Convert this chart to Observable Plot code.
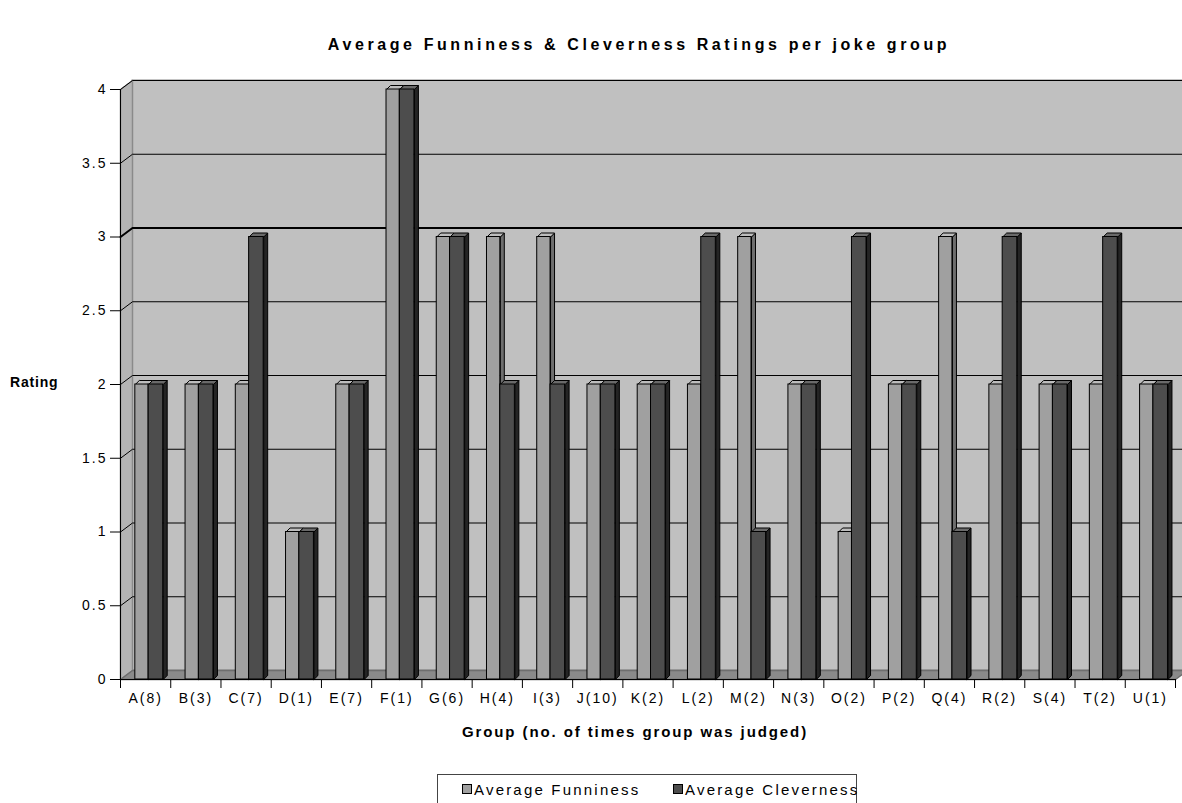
<!DOCTYPE html>
<html>
<head>
<meta charset="utf-8">
<script src="https://cdn.jsdelivr.net/npm/d3@7"></script>
<script src="https://cdn.jsdelivr.net/npm/@observablehq/plot@0.6"></script>
<style>
  html, body { margin: 0; padding: 0; background: #fff; overflow: hidden; }
  #root { position: relative; width: 1182px; height: 803px; font-family: "Liberation Sans", Arial, sans-serif; color: #000; }
  #root svg { position: absolute; left: 0; top: 0; }
  .lbl { position: absolute; white-space: nowrap; font-weight: bold; }
  #title { left: 0; width: 1278px; top: 36px; text-align: center; font-size: 16px; letter-spacing: 3.6px; }
  #ylabel { left: 10px; top: 374px; font-size: 14px; letter-spacing: 0.8px; }
  #xlabel { left: 0; width: 1270px; top: 723px; text-align: center; font-size: 15px; letter-spacing: 1.9px; }
  #legend { position: absolute; left: 437px; top: 774px; width: 420px; height: 34px; border: 1px solid #444; box-sizing: border-box;
            font-size: 15px; letter-spacing: 2.2px; }
  .item { position: absolute; top: 6px; white-space: nowrap; }
  .sw { display: inline-block; width: 8px; height: 8px; border: 1px solid #000; margin-right: 2px; vertical-align: 1px; }
</style>
</head>
<body>
<div id="root">
  <div id="title" class="lbl">Average Funniness &amp; Cleverness Ratings per joke group</div>
  <div id="ylabel" class="lbl">Rating</div>
  <div id="xlabel" class="lbl">Group (no. of times group was judged)</div>
  <div id="legend"></div>
</div>
<script>
// Joke groups (label shows how many times the group was judged)
const groups = ["A(8)", "B(3)", "C(7)", "D(1)", "E(7)", "F(1)", "G(6)", "H(4)", "I(3)", "J(10)", "K(2)",
                "L(2)", "M(2)", "N(3)", "O(2)", "P(2)", "Q(4)", "R(2)", "S(4)", "T(2)", "U(1)"];
const funniness  = [2, 2, 2, 1, 2, 4, 3, 3, 3, 2, 2, 2, 3, 2, 1, 2, 3, 2, 2, 2, 2];
const cleverness = [2, 2, 3, 1, 2, 4, 3, 2, 2, 2, 2, 3, 1, 2, 3, 2, 1, 3, 2, 3, 2];
const seriesNames = ["Average Funniness", "Average Cleverness"];
const yTicks = [0, 0.5, 1, 1.5, 2, 2.5, 3, 3.5, 4];

// Layout
const W = 1182, H = 803;
const ML = 120, MR = 7, MT = 89, MB = 124;
const n = groups.length, yMax = 4;
const kx = n / (W - ML - MR);      // data units per pixel, x
const ky = yMax / (H - MT - MB);   // data units per pixel, y
const wallDX = 12 * kx, wallDY = 9 * ky;   // depth of the back wall
const barDX = 4 * kx, barDY = 4 * ky;      // depth of each column

// Series styling: front, top and side faces of the 3-D columns
const series = [
  {name: seriesNames[0], values: funniness,  x0: 0.295, x1: 0.56, front: "#a0a0a0", top: "#bdbdbd", side: "#6e6e6e"},
  {name: seriesNames[1], values: cleverness, x0: 0.56,  x1: 0.85, front: "#4d4d4d", top: "#6a6a6a", side: "#242424"}
];

function poly(id, pts) { return [...pts, pts[0]].map(([x, y]) => ({id, x, y})); }

// Back wall side panel and floor
const leftPanel = poly("left", [[0, 0], [0, yMax], [wallDX, yMax + wallDY], [wallDX, wallDY]]);
const floor = poly("floor", [[0, 0], [n, 0], [n + wallDX, wallDY], [wallDX, wallDY]]);

// Gridlines: a short diagonal on the side panel, then across the back wall
const grid = yTicks.filter(v => v > 0).flatMap(v =>
  [[0, v], [wallDX, v + wallDY], [n + wallDX, v + wallDY]].map(([x, y]) => ({id: v, x, y, w: v === 3 ? 2 : 1})));

const marks = [
  Plot.rect([0], {x1: 0, x2: n, y1: 0, y2: yMax, dx: 12, dy: -9, fill: "#c0c0c0", stroke: "#8a8a8a"}),
  Plot.line(leftPanel, {x: "x", y: "y", z: "id", fill: "#b4b4b4", stroke: "#8a8a8a"}),
  Plot.line(floor, {x: "x", y: "y", z: "id", fill: "#8a8a8a", stroke: "#6e6e6e"}),
  Plot.line(grid.filter(d => d.w === 1), {x: "x", y: "y", z: "id", stroke: "#000", strokeWidth: 1}),
  Plot.line(grid.filter(d => d.w === 2), {x: "x", y: "y", z: "id", stroke: "#000", strokeWidth: 2})
];

// Columns: funniness first, cleverness drawn over its neighbour's side face
for (const s of series) {
  const rows = s.values.map((v, i) => ({i, v, a: i + s.x0, b: i + s.x1}));
  const tops = rows.flatMap(r => poly(r.i, [[r.a, r.v], [r.b, r.v], [r.b + barDX, r.v + barDY], [r.a + barDX, r.v + barDY]]));
  const sides = rows.flatMap(r => poly(r.i, [[r.b, 0], [r.b, r.v], [r.b + barDX, r.v + barDY], [r.b + barDX, barDY]]));
  marks.push(
    Plot.line(sides, {x: "x", y: "y", z: "id", fill: s.side, stroke: "#000", strokeWidth: 1}),
    Plot.line(tops, {x: "x", y: "y", z: "id", fill: s.top, stroke: "#000", strokeWidth: 1}),
    Plot.rectY(rows, {x1: "a", x2: "b", y1: 0, y2: "v", fill: s.front, stroke: "#000", strokeWidth: 1})
  );
}

marks.push(
  Plot.ruleX([0], {y1: 0, y2: yMax, stroke: "#000"}),
  Plot.ruleY([0], {x1: 0, x2: n, stroke: "#000"}),
  Plot.axisY({ticks: yTicks, tickSize: 10, tickPadding: 3, tickFormat: d => String(d), label: null,
              fontSize: 14, stroke: "#000"}),
  Plot.axisX({ticks: d3.range(n + 1), tickSize: 9, tickFormat: () => "", label: null, stroke: "#000"}),
  Plot.text(groups, {x: (d, i) => i + 0.5, y: 0, dy: 19, text: d => d, fontSize: 14, fill: "#000"})
);

const chart = Plot.plot({
  width: W, height: H,
  marginLeft: ML, marginRight: MR, marginTop: MT, marginBottom: MB,
  x: {type: "linear", domain: [0, n], axis: null},
  y: {domain: [0, yMax], axis: null},
  style: {fontFamily: "Liberation Sans, Arial, sans-serif", fontSize: "14px", letterSpacing: "2px", color: "#000", background: "transparent", overflow: "visible"},
  marks
});
document.getElementById("root").appendChild(chart);

// Legend
const legend = document.getElementById("legend");
const lefts = [24, 235];
series.forEach((s, k) => {
  const it = document.createElement("span");
  it.className = "item";
  it.style.left = lefts[k] + "px";
  const sw = document.createElement("span");
  sw.className = "sw";
  sw.style.background = s.front;
  it.appendChild(sw);
  it.appendChild(document.createTextNode(s.name));
  legend.appendChild(it);
});
</script>
</body>
</html>
